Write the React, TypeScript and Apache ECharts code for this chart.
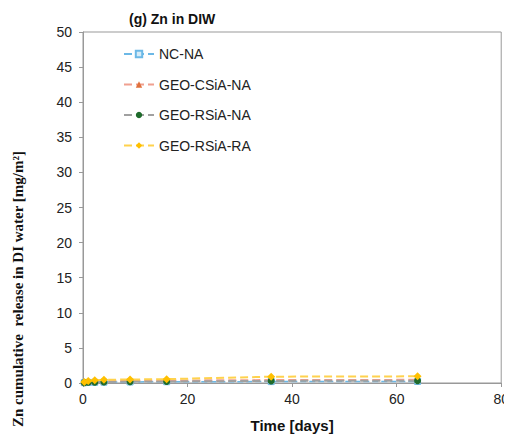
import React, { useEffect, useRef } from "react";
import * as echarts from "echarts";

const times = [0.25, 1, 2.25, 4, 9, 16, 36, 64];
const ncNA = [0.05, 0.08, 0.1, 0.12, 0.15, 0.18, 0.2, 0.22];
const geoCSiANA = [0.1, 0.15, 0.2, 0.25, 0.3, 0.35, 0.42, 0.45];
const geoRSiANA = [0.05, 0.1, 0.12, 0.15, 0.2, 0.22, 0.3, 0.32];
const geoRSiARA = [0.15, 0.3, 0.4, 0.45, 0.5, 0.55, 0.9, 0.95];
const seriesNames = ["NC-NA", "GEO-CSiA-NA", "GEO-RSiA-NA", "GEO-RSiA-RA"];

const pair = (vals: number[]) => times.map((t, i) => [t, vals[i]]);

export default function App() {
  const ref = useRef<HTMLDivElement>(null);
  useEffect(() => {
    if (!ref.current) return;
    const chart = echarts.init(ref.current, undefined, { renderer: "svg" });
    const font = "Liberation Sans, Arial, sans-serif";
    chart.setOption({
      animation: false,
      backgroundColor: "#ffffff",
      title: {
        text: "(g) Zn in DIW",
        left: 116,
        top: -1,
        textStyle: { fontFamily: font, fontSize: 14, fontWeight: "bold", color: "#111" },
      },
      legend: {
        orient: "vertical",
        left: 110,
        top: 34,
        itemGap: 16.5,
        itemWidth: 30,
        itemHeight: 8,
        textStyle: { fontFamily: font, fontSize: 14, color: "#222" },
        data: seriesNames,
      },
      grid: {
        left: 75,
        right: 8,
        top: 24,
        bottom: 51,
        show: true,
        borderColor: "#999",
        borderWidth: 1,
      },
      xAxis: {
        type: "value",
        min: 0,
        max: 80,
        interval: 20,
        name: "Time [days]",
        nameLocation: "middle",
        nameGap: 35,
        nameTextStyle: { fontFamily: font, fontSize: 15, fontWeight: "bold", color: "#111" },
        axisLine: { lineStyle: { color: "#999" } },
        axisTick: { show: true, length: 4, lineStyle: { color: "#999" } },
        axisLabel: { fontFamily: font, fontSize: 14, color: "#222", margin: 9 },
        splitLine: { show: false },
      },
      yAxis: {
        type: "value",
        min: 0,
        max: 50,
        interval: 5,
        axisLine: { show: true, lineStyle: { color: "#999" } },
        axisTick: { show: true, length: 4, lineStyle: { color: "#999" } },
        axisLabel: { fontFamily: font, fontSize: 14, color: "#222", margin: 11 },
        splitLine: { show: false },
      },
      graphic: [
        {
          type: "text",
          x: 10,
          y: 281,
          rotation: Math.PI / 2,
          style: {
            text: "Zn cumulative  release in DI water [mg/m²]",
            font: "bold 15px 'Liberation Serif', 'Times New Roman', serif",
            fill: "#111",
            align: "center",
            verticalAlign: "middle",
          },
        },
      ],
      series: [
        {
          name: seriesNames[0],
          type: "line",
          data: pair(ncNA),
          symbol: "rect",
          symbolSize: 6,
          lineStyle: { color: "#6cb8e6", type: "dashed", width: 1.5 },
          itemStyle: { color: "#d6ecf8", borderColor: "#6cb8e6", borderWidth: 1 },
          z: 2,
        },
        {
          name: seriesNames[1],
          type: "line",
          data: pair(geoCSiANA),
          symbol: "triangle",
          symbolSize: 6,
          lineStyle: { color: "#f0a090", type: "dashed", width: 2 },
          itemStyle: { color: "#e0703c" },
          z: 3,
        },
        {
          name: seriesNames[2],
          type: "line",
          data: pair(geoRSiANA),
          symbol: "circle",
          symbolSize: 7,
          lineStyle: { color: "#a0a0a0", type: "dashed", width: 2 },
          itemStyle: { color: "#1f6b2c" },
          z: 4,
        },
        {
          name: seriesNames[3],
          type: "line",
          data: pair(geoRSiARA),
          symbol: "diamond",
          symbolSize: 8,
          lineStyle: { color: "#ffd24d", type: "dashed", width: 2 },
          itemStyle: { color: "#ffc000" },
          z: 5,
        },
      ],
    });
    return () => chart.dispose();
  }, []);
  return <div ref={ref} style={{ width: 504, height: 430 }} />;
}
